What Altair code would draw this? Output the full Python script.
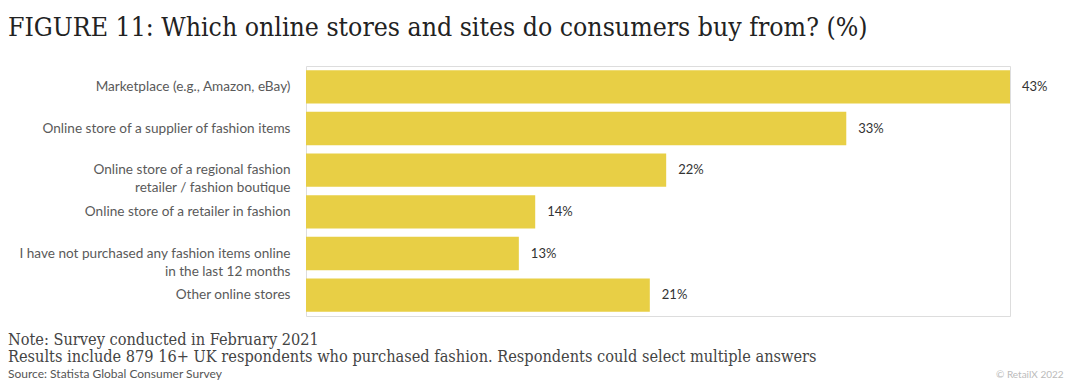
import altair as alt
import pandas as pd

categories = [
    "Marketplace (e.g., Amazon, eBay)",
    "Online store of a supplier of fashion items",
    "Online store of a regional fashion|retailer / fashion boutique",
    "Online store of a retailer in fashion",
    "I have not purchased any fashion items online|in the last 12 months",
    "Other online stores",
]
values = [43, 33, 22, 14, 13, 21]

title_text = "FIGURE 11: Which online stores and sites do consumers buy from? (%)"
note_lines = [
    "Note: Survey conducted in February 2021",
    "Results include 879 16+ UK respondents who purchased fashion. Respondents could select multiple answers",
]
source_text = "Source: Statista Global Consumer Survey"
credit_text = "© RetailX 2022"

df = pd.DataFrame({"category": categories, "value": values})
df["label"] = df["value"].astype(str) + "%"

W, H = 704, 250
SERIF = "DejaVu Serif Condensed, DejaVu Serif"

y_enc = alt.Y(
    "category:N",
    sort=categories,
    scale=alt.Scale(paddingInner=0.2, paddingOuter=0.1),
    axis=alt.Axis(
        title=None, ticks=False, domain=False, labelPadding=16,
        labelExpr="split(datum.label, '|')", labelLineHeight=18,
        labelFont="Lato", labelFontSize=13.6, labelColor="#5a5a5a", labelLimit=400,
    ),
)
x_enc = alt.X("value:Q", scale=alt.Scale(domain=[0, 43], nice=False), axis=None)

bars = alt.Chart(df).mark_bar(color="#E8CF45").encode(x=x_enc, y=y_enc)
labels = alt.Chart(df).mark_text(
    align="left", dx=12, font="Lato", fontSize=13, color="#333333"
).encode(x=x_enc, y=alt.Y("category:N", sort=categories), text="label:N")

def txt(s, x, y, size, font, color):
    return alt.Chart(pd.DataFrame({"t": [s]})).mark_text(
        align="left", baseline="alphabetic", font=font, fontSize=size, color=color
    ).encode(x=alt.value(x), y=alt.value(y), text="t:N")

title = txt(title_text, -298, -30, 26.4, SERIF, "#222222")
n1 = txt(note_lines[0], -298, 279, 16.2, SERIF, "#444444")
n2 = txt(note_lines[1], -298, 296, 16.2, SERIF, "#444444")
src = txt(source_text, -298, 312, 12, "Lato", "#555555")
cred = txt(credit_text, 690, 312, 10, "Lato", "#bbbbbb")

chart = alt.layer(bars, labels, title, n1, n2, src, cred).properties(
    width=W, height=H,
    autosize=alt.AutoSizeParams(type="none"),
    padding={"left": 298, "top": 58, "right": 62, "bottom": 67},
).configure_view(stroke=None).configure(background="white")

chart.save("out.html", embed_options={"renderer": "svg", "actions": False})
